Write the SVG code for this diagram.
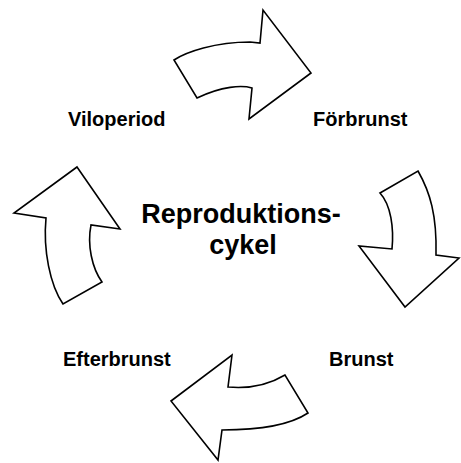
<svg xmlns="http://www.w3.org/2000/svg" width="461" height="463" viewBox="0 0 461 463">
<style>
.arrow{fill:#fff;stroke:#000;stroke-width:1.6;stroke-linejoin:miter}
.lbl{font-family:"Liberation Sans",Arial,sans-serif;font-weight:bold;font-size:20px;fill:#000}
.ctr{font-family:"Liberation Sans",Arial,sans-serif;font-weight:bold;font-size:27px;fill:#000;text-anchor:middle}
</style>
<rect width="461" height="463" fill="#fff"/>
<g id="connectors">
<path id="arrow-top" class="arrow" d="M174,60 C186,52 215,42 250,42 L260,43 L263,10 L311,73 L249,119 L252,88 C242,85 222,86 197,98 Z"/>
<path id="arrow-right" class="arrow" d="M380,193 L418,171 C430,192 437,215 436,255 L459,258 L405,307 L359,246 L392,249 C394,228 391,205 380,193 Z"/>
<path id="arrow-bottom" class="arrow" d="M232,355 L228,387 C250,389 270,384 285,375 L308,413 C290,425 262,430 222,430 L218,460 L171,401 Z"/>
<path id="arrow-left" class="arrow" d="M77,167 L120,229 L91,225 C87,245 92,268 102,282 L63,304 C50,285 43,250 46,218 L14,213 Z"/>
</g>
<g id="center"><text class="ctr" x="241" y="223">Reproduktions-</text><text class="ctr" x="243" y="254">cykel</text></g>
<g id="viloperiod"><text class="lbl" x="68" y="126">Viloperiod</text></g>
<g id="forbrunst"><text class="lbl" x="313" y="126">Förbrunst</text></g>
<g id="brunst"><text class="lbl" x="329" y="366">Brunst</text></g>
<g id="efterbrunst"><text class="lbl" x="63" y="366">Efterbrunst</text></g>
</svg>
